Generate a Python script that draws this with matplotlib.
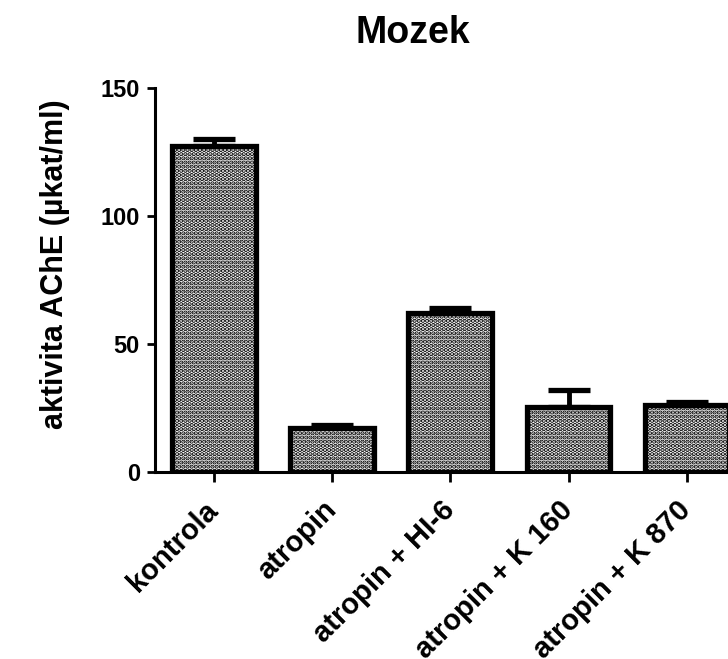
import matplotlib
matplotlib.use("Agg")
import matplotlib.pyplot as plt
from matplotlib.transforms import ScaledTranslation

plt.rcParams["font.family"] = ["Liberation Sans", "DejaVu Sans"]
plt.rcParams["font.weight"] = "bold"
plt.rcParams["hatch.linewidth"] = 2.2
plt.rcParams["hatch.color"] = "black"

groups = ["kontrola", "atropin", "atropin + HI-6", "atropin + K 160", "atropin + K 870"]
means = [127.3, 17.2, 62.0, 25.3, 26.2]
sem = [2.7, 1.0, 1.9, 6.7, 1.1]
yticks = [0, 50, 100, 150]

fig = plt.figure(figsize=(7.28, 6.59), dpi=100)
ax = fig.add_axes([0.213, 0.284, 0.80, 0.583])

x = list(range(len(groups)))
ax.bar(x, means, width=0.71, color="white", edgecolor="black",
       linewidth=3.8, hatch="....", zorder=2)
# upper error bars only
ax.errorbar(x, means, yerr=[[0] * len(sem), sem], fmt="none",
            ecolor="black", elinewidth=3.5, capsize=15, capthick=3.8,
            zorder=1)

ax.set_xlim(-0.5, 4.43)
ax.set_ylim(0, 150)
ax.set_yticks(yticks)
ax.set_xticks(x)
ax.set_xticklabels([])
# rotated category labels, nudged a little left of their ticks
shift = ScaledTranslation(-10 / 100, -24 / 100, fig.dpi_scale_trans)
for xi, name in zip(x, groups):
    ax.text(xi, 0, name, transform=ax.get_xaxis_transform() + shift,
            rotation=45, ha="right", va="top", rotation_mode="anchor",
            fontsize=21, fontweight="bold")
ax.tick_params(axis="y", labelsize=17, width=2, length=6, direction="out", pad=5)
ax.tick_params(axis="x", width=2, length=7, direction="out")
ax.spines[["top", "right"]].set_visible(False)
ax.spines["left"].set_linewidth(2.2)
ax.spines["bottom"].set_linewidth(2.2)
ax.spines["bottom"].set_zorder(3)

ax.set_ylabel("aktivita AChE (\u00b5kat/ml)", fontsize=22, fontweight="bold")
ax.yaxis.set_label_coords(-0.146, 0.54)
fig.text(413 / 728, 1 - 33 / 659, "Mozek", ha="center", va="center",
         fontsize=27, fontweight="bold")

fig.savefig("out.png", dpi=100)
